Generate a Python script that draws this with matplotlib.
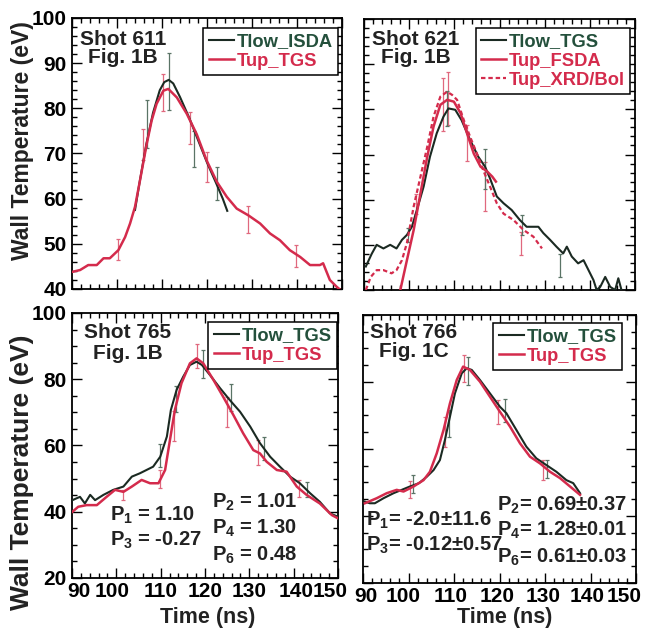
import matplotlib
matplotlib.use('Agg')
import matplotlib.pyplot as plt
from matplotlib.ticker import MultipleLocator, FixedLocator
from matplotlib.transforms import ScaledTranslation

plt.rcParams['font.family'] = ['Liberation Sans', 'DejaVu Sans']
plt.rcParams['font.weight'] = 'bold'
plt.rcParams['mathtext.fontset'] = 'custom'
plt.rcParams['mathtext.bf'] = 'Liberation Sans:bold'
plt.rcParams['mathtext.rm'] = 'Liberation Sans:bold'
plt.rcParams['mathtext.default'] = 'bf'

RED = '#d42b4c'
DARK = '#1b2a22'
RED_ERR = '#e0687e'
DARK_ERR = '#5a7466'
DARK_TXT = '#24503c'

time_ticks = [90, 100, 110, 120, 130, 140, 150]

# ---- Shot 611 ----
t611_low = [104.0, 105.0, 106.5, 108.0, 109.5, 110.5, 111.5, 112.5, 114.0, 116.0,
            118.0, 120.0, 122.0, 123.5, 124.5]
T611_low = [57.5, 63.5, 72.0, 79.0, 84.0, 85.8, 86.3, 85.5, 82.5, 78.0,
            73.0, 68.0, 63.5, 60.0, 57.3]
t611_up = [90.1, 91.8, 93.6, 95.5, 97.0, 98.4, 100.3, 101.8, 102.9, 104.0, 105.1,
           106.6, 107.7, 108.8, 110.3, 111.4, 113.3, 115.5, 117.7, 119.9, 122.2,
           124.4, 126.6, 129.2, 131.8, 134.0, 136.2, 138.4, 140.7, 142.9, 145.1,
           145.8, 147.3, 148.8, 150.0]
T611_up = [43.8, 44.2, 45.3, 45.3, 46.8, 46.8, 48.6, 51.5, 54.5, 58.2, 64.0,
           72.1, 77.3, 81.0, 83.9, 84.3, 82.4, 78.8, 74.3, 68.5, 63.7,
           60.4, 57.8, 56.3, 54.5, 52.3, 50.8, 48.6, 47.1, 45.3, 45.3,
           45.7, 42.0, 40.5, 39.5]
eb611_up_t = [100.3, 105.8, 110.2, 116.3, 119.9, 129.2, 139.8]
eb611_up_y = [48.8, 72.0, 83.5, 75.6, 67.0, 55.3, 47.3]
eb611_up_e = [2.3, 3.5, 4.2, 3.6, 3.4, 3.0, 2.4]
eb611_low_t = [106.6, 111.5, 117.2, 122.2]
eb611_low_y = [76.6, 86.0, 71.0, 63.3]
eb611_low_e = [5.3, 6.3, 4.0, 3.7]

# ---- Shot 621 ----
t621_low = [90.4, 91.7, 92.8, 94.3, 95.8, 97.2, 98.4, 99.5, 100.6, 101.7, 103.2,
            104.6, 106.1, 107.6, 108.7, 110.2, 111.6, 113.5, 115.3, 116.8, 117.9,
            119.4, 120.9, 122.7, 124.5, 126.0, 127.5, 128.6, 129.7, 131.2, 132.6,
            134.1, 134.9, 136.0, 137.4, 138.6, 139.7, 140.8, 141.5, 142.3, 143.4,
            144.5, 145.6, 146.3, 147.0, 148.0]
T621_low = [45.2, 48.0, 50.0, 49.2, 50.0, 49.2, 51.1, 52.2, 54.0, 57.7, 62.9,
            69.5, 74.7, 78.4, 80.2, 79.9, 77.6, 73.2, 69.5, 67.3, 64.7,
            60.7, 59.2, 57.7, 55.5, 54.0, 54.0, 54.0, 52.6, 51.1, 49.6,
            48.1, 49.6, 47.4, 45.9, 46.6, 44.4, 42.2, 40.0, 40.7, 42.9,
            40.7, 40.0, 42.6, 40.0, 38.5]
t621_fsda = [97.6, 99.5, 101.0, 102.5, 104.0, 105.4, 106.9, 108.4, 109.9, 111.4,
             112.8, 114.3, 115.8, 117.3, 118.4, 119.2]
T621_fsda = [38.0, 46.6, 53.3, 61.4, 69.5, 76.2, 81.0, 82.1, 81.7, 79.1,
             74.7, 70.2, 67.3, 66.2, 65.1, 64.0]
t621_xrd = [90.4, 91.5, 92.8, 94.3, 96.1, 97.2, 98.4, 99.5, 101.0, 102.5, 104.0,
            105.4, 106.9, 108.4, 109.5, 110.6, 112.1, 113.5, 115.0, 116.4, 117.9,
            119.4, 120.9, 123.1, 125.3, 127.5, 129.4]
T621_xrd = [40.0, 42.9, 44.4, 44.4, 43.7, 44.4, 46.6, 50.4, 58.5, 65.1, 71.7,
            78.4, 82.8, 83.9, 83.2, 82.1, 77.6, 73.9, 70.2, 66.5, 62.9,
            59.2, 56.9, 55.5, 53.3, 51.8, 49.2]
eb621_up_t = [101.5, 107.5, 108.7, 112.8, 116.7, 124.7]
eb621_up_y = [59.0, 81.0, 82.4, 72.5, 62.9, 50.3]
eb621_up_e = [2.2, 5.9, 5.9, 4.0, 5.5, 2.6]
eb621_low_t = [99.7, 108.4, 116.7, 124.9, 133.5]
eb621_low_y = [52.2, 80.2, 66.8, 54.4, 45.4]
eb621_low_e = [1.5, 3.8, 4.4, 2.2, 2.6]

# ---- Shot 765 ----
t765_low = [90.1, 91.8, 92.9, 94.1, 95.2, 97.1, 99.3, 101.6, 103.5, 105.3, 106.8,
            108.3, 109.9, 111.4, 112.3, 113.6, 115.1, 116.6, 118.1, 119.3, 121.1,
            123.4, 125.6, 127.9, 130.2, 132.4, 134.7, 136.9, 139.2, 141.4, 143.7,
            145.9, 148.2, 150.0]
T765_low = [43.5, 44.5, 42.5, 45.1, 43.5, 45.1, 46.6, 47.6, 50.6, 51.6, 52.6,
            53.6, 56.6, 62.7, 70.7, 76.8, 80.8, 84.3, 85.3, 84.3, 81.3,
            77.3, 73.7, 70.2, 65.7, 60.7, 56.6, 53.6, 50.6, 48.6, 45.6,
            43.0, 39.5, 38.5]
t765_up = [90.1, 91.4, 93.3, 95.6, 97.8, 99.7, 101.6, 103.5, 105.7, 107.6, 109.5,
           111.0, 112.1, 113.2, 114.7, 116.6, 118.1, 119.6, 121.9, 124.1, 126.4,
           128.6, 130.9, 132.4, 133.9, 136.2, 138.4, 140.7, 142.9, 145.9, 148.6,
           150.0]
T765_up = [40.0, 41.5, 42.0, 42.0, 44.5, 46.6, 46.0, 47.6, 49.6, 48.6, 48.6,
           52.6, 61.7, 70.7, 78.8, 84.8, 86.3, 84.8, 79.8, 74.7, 69.2,
           63.7, 58.6, 57.6, 55.1, 52.6, 52.1, 47.6, 45.1, 42.5, 39.0,
           38.0]
eb765_up_t = [101.6, 109.9, 113.0, 118.1, 124.9, 132.0, 141.2]
eb765_up_y = [45.0, 50.0, 66.0, 87.0, 70.0, 58.0, 47.0]
eb765_up_e = [1.5, 2.7, 4.5, 3.6, 4.5, 3.8, 2.5]
eb765_low_t = [109.9, 113.4, 119.6, 125.9, 133.4, 142.9]
eb765_low_y = [57.0, 74.0, 84.6, 74.5, 59.0, 46.8]
eb765_low_e = [3.5, 4.0, 4.2, 4.0, 3.5, 2.3]

# ---- Shot 766 ----
t766_low = [90.4, 91.5, 92.6, 94.5, 96.7, 98.5, 100.3, 102.3, 104.0, 105.5, 106.9,
            108.0, 109.1, 110.2, 111.7, 112.8, 113.9, 115.7, 117.9, 120.1, 121.5,
            123.7, 125.9, 128.1, 130.3, 132.5, 134.7, 136.2, 137.7]
T766_low = [44.3, 43.8, 43.8, 45.3, 46.8, 47.8, 48.8, 49.8, 51.7, 53.7, 56.7,
            62.7, 69.6, 76.6, 82.6, 84.1, 83.6, 80.6, 76.6, 72.6, 70.7,
            65.7, 60.7, 57.2, 55.2, 53.2, 50.7, 49.8, 46.8]
t766_up = [90.4, 93.0, 95.2, 97.4, 98.9, 101.1, 103.3, 104.7, 106.2, 107.7, 109.1,
           110.6, 112.0, 113.5, 115.7, 117.9, 120.1, 122.3, 124.5, 126.7, 128.9,
           131.1, 133.3, 135.5, 137.7]
T766_up = [43.8, 45.3, 46.8, 47.8, 47.3, 48.8, 50.7, 53.2, 58.7, 65.7, 73.6,
           80.6, 84.6, 83.6, 80.1, 75.6, 71.1, 66.7, 61.7, 57.7, 55.7,
           53.2, 51.3, 48.8, 46.3]
eb766_up_t = [100.3, 108.0, 112.3, 119.6, 129.6]
eb766_up_y = [47.8, 65.0, 84.0, 71.0, 53.7]
eb766_up_e = [2.5, 4.5, 4.0, 3.5, 3.0]
eb766_low_t = [100.9, 108.8, 113.0, 121.1, 130.5]
eb766_low_y = [49.5, 67.6, 83.4, 71.5, 54.0]
eb766_low_e = [2.7, 4.0, 4.2, 3.5, 2.7]

fig = plt.figure(figsize=(6.47, 6.31), dpi=100)
ax_tl = fig.add_axes([0.1113, 0.5420, 0.4173, 0.4295])
ax_tr = fig.add_axes([0.5626, 0.5404, 0.4189, 0.4295])
ax_bl = fig.add_axes([0.1113, 0.0840, 0.4111, 0.4200])
ax_br = fig.add_axes([0.5611, 0.0761, 0.4219, 0.4247])


def style_axes(ax, top_row):
    ax.set_xlim(90, 150)
    ax.xaxis.set_major_locator(FixedLocator(time_ticks))
    ax.xaxis.set_minor_locator(MultipleLocator(2))
    if top_row:
        ax.set_ylim(40, 100)
        ax.yaxis.set_major_locator(MultipleLocator(10))
        ax.yaxis.set_minor_locator(MultipleLocator(2))
    else:
        ax.set_ylim(20, 100)
        ax.yaxis.set_major_locator(MultipleLocator(20))
        ax.yaxis.set_minor_locator(MultipleLocator(5))
    ax.tick_params(which='both', direction='in', top=True, right=True, width=1.0)
    ax.tick_params(which='major', length=7)
    ax.tick_params(which='minor', length=3.5)
    ax.tick_params(axis='x', labelsize=15, pad=3)
    ax.tick_params(axis='y', labelsize=15, pad=4)
    for sp in ax.spines.values():
        sp.set_linewidth(1.3)


def nudge_xlabels(ax, shifts_px):
    # the original's tick numbers sit a little inward from the ticks
    fig.canvas.draw()
    for lab, dx in zip(ax.get_xticklabels(), shifts_px):
        lab.set_transform(lab.get_transform()
                          + ScaledTranslation(dx / 100.0, 0, fig.dpi_scale_trans))


def errbars(ax, t, y, e, color):
    ax.errorbar(t, y, yerr=e, fmt='none', ecolor=color, elinewidth=0.9,
                capsize=1.5, capthick=0.9, zorder=3)


def add_legend(ax, anchor):
    leg = ax.legend(loc='upper right', bbox_to_anchor=anchor, borderaxespad=0,
                    fontsize=13.2, frameon=True, fancybox=False, framealpha=1,
                    edgecolor='black', handlelength=1.35, handletextpad=0.15,
                    borderpad=0.3, labelspacing=0.12)
    leg.get_frame().set_linewidth(1.1)
    for txt, line in zip(leg.get_texts(), leg.get_lines()):
        txt.set_color(DARK_TXT if line.get_color() == DARK else RED)
    return leg


for ax, top_row in [(ax_tl, True), (ax_tr, True), (ax_bl, False), (ax_br, False)]:
    style_axes(ax, top_row)

# Shot 611
ax_tl.plot(t611_low, T611_low, color=DARK, lw=1.5, label='Tlow_ISDA', zorder=4)
ax_tl.plot(t611_up, T611_up, color=RED, lw=1.8, label='Tup_TGS', zorder=5)
errbars(ax_tl, eb611_up_t, eb611_up_y, eb611_up_e, RED_ERR)
errbars(ax_tl, eb611_low_t, eb611_low_y, eb611_low_e, DARK_ERR)
add_legend(ax_tl, (0.985, 0.963))
ax_tl.text(0.19, 0.957, 'Shot 611\nFig. 1B', transform=ax_tl.transAxes,
           ha='center', va='top', fontsize=15, fontweight='bold', linespacing=0.95,
           color='#222222')
ax_tl.set_xticklabels([])
ax_tl.set_ylabel('Wall Temperature (eV)', fontsize=16.5, fontweight='bold',
                 va='center', color='#222222')
ax_tl.yaxis.set_label_coords(-0.185, 0.546)

# Shot 621
ax_tr.plot(t621_low, T621_low, color=DARK, lw=1.5, label='Tlow_TGS', zorder=4)
ax_tr.plot(t621_fsda, T621_fsda, color=RED, lw=1.8, label='Tup_FSDA', zorder=5)
ax_tr.plot(t621_xrd, T621_xrd, color=RED, lw=1.6, ls=(0, (2, 1.3)),
           label='Tup_XRD/Bol', zorder=5)
errbars(ax_tr, eb621_up_t, eb621_up_y, eb621_up_e, RED_ERR)
errbars(ax_tr, eb621_low_t, eb621_low_y, eb621_low_e, DARK_ERR)
add_legend(ax_tr, (0.982, 0.967))
ax_tr.text(0.192, 0.96, 'Shot 621\nFig. 1B', transform=ax_tr.transAxes,
           ha='center', va='top', fontsize=15, fontweight='bold', linespacing=0.95,
           color='#222222')
ax_tr.set_xticklabels([])
ax_tr.set_yticklabels([])

# Shot 765
ax_bl.plot(t765_low, T765_low, color=DARK, lw=1.5, label='Tlow_TGS', zorder=4)
ax_bl.plot(t765_up, T765_up, color=RED, lw=1.8, label='Tup_TGS', zorder=5)
errbars(ax_bl, eb765_up_t, eb765_up_y, eb765_up_e, RED_ERR)
errbars(ax_bl, eb765_low_t, eb765_low_y, eb765_low_e, DARK_ERR)
add_legend(ax_bl, (0.996, 0.966))
ax_bl.text(0.209, 0.962, 'Shot 765\nFig. 1B', transform=ax_bl.transAxes,
           ha='center', va='top', fontsize=15, fontweight='bold', linespacing=1.1,
           color='#222222')
for x, y, s, ha in [(0.143, 0.238, 'P$_1$ = 1.10', 'left'),
                    (0.143, 0.143, 'P$_3$ = -0.27', 'left'),
                    (0.526, 0.287, 'P$_2$ = 1.01', 'left'),
                    (0.526, 0.189, 'P$_4$ = 1.30', 'left'),
                    (0.526, 0.087, 'P$_6$ = 0.48', 'left')]:
    ax_bl.text(x, y, s, transform=ax_bl.transAxes, ha=ha, va='center',
               fontsize=14.5, fontweight='bold', color='#222222')
ax_bl.set_ylabel('Wall Temperature (eV)', fontsize=19, fontweight='bold',
                 va='center', color='#222222')
ax_bl.yaxis.set_label_coords(-0.188, 0.40)
ax_bl.set_xlabel('Time (ns)', fontsize=15.5, fontweight='bold', va='top',
                 color='#222222')
ax_bl.xaxis.set_label_coords(0.51, -0.108)

# Shot 766
ax_br.plot(t766_low, T766_low, color=DARK, lw=1.5, label='Tlow_TGS', zorder=4)
ax_br.plot(t766_up, T766_up, color=RED, lw=1.8, label='Tup_TGS', zorder=5)
errbars(ax_br, eb766_up_t, eb766_up_y, eb766_up_e, RED_ERR)
errbars(ax_br, eb766_low_t, eb766_low_y, eb766_low_e, DARK_ERR)
add_legend(ax_br, (0.949, 0.970))
ax_br.text(0.185, 0.97, 'Shot 766\nFig. 1C', transform=ax_br.transAxes,
           ha='center', va='top', fontsize=15, fontweight='bold', linespacing=1.0,
           color='#222222')
for x, y, s, ha in [(0.01, 0.235, 'P$_1$= -2.0±11.6', 'left'),
                    (0.01, 0.142, 'P$_3$= -0.12±0.57', 'left'),
                    (0.967, 0.291, 'P$_2$= 0.69±0.37', 'right'),
                    (0.967, 0.198, 'P$_4$= 1.28±0.01', 'right'),
                    (0.967, 0.097, 'P$_6$= 0.61±0.03', 'right')]:
    ax_br.text(x, y, s, transform=ax_br.transAxes, ha=ha, va='center',
               fontsize=14.5, fontweight='bold', color='#222222')
ax_br.set_yticklabels([])
ax_br.set_xlabel('Time (ns)', fontsize=15.5, fontweight='bold', va='top',
                 color='#222222')
ax_br.xaxis.set_label_coords(0.52, -0.088)

nudge_xlabels(ax_bl, [7, -4, 0, 0, 0, 2, -8])
nudge_xlabels(ax_br, [3, -5, -3, -2, -2, -3, -12])

fig.savefig('out.png', dpi=100)
